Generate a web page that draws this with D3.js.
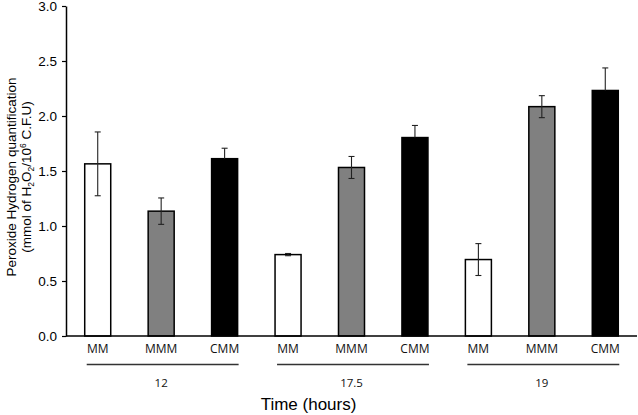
<!DOCTYPE html>
<html>
<head>
<meta charset="utf-8">
<script src="https://cdn.jsdelivr.net/npm/d3@7"></script>
<style>
  body { margin: 0; background: #fff; }
  svg { display: block; }
</style>
</head>
<body>
<svg id="chart" width="638" height="415"></svg>
<script>
// data
const groups = ["12", "17.5", "19"];
const media = ["MM", "MMM", "CMM"];
const values = [1.565, 1.135, 1.612, 0.74, 1.532, 1.804, 0.695, 2.085, 2.232];
const errors = [0.29, 0.12, 0.095, 0.01, 0.1, 0.11, 0.145, 0.1, 0.205];
const fills = ["#ffffff", "#808080", "#000000"];
const yTicks = [0, 0.5, 1.0, 1.5, 2.0, 2.5, 3.0];

const bars = [];
groups.forEach((g, gi) => {
  media.forEach((m, mi) => {
    const i = gi * media.length + mi;
    bars.push({ key: g + "-" + m, group: g, medium: m, mi, value: values[i], err: errors[i] });
  });
});

const svg = d3.select("#chart");
const plotLeft = 66, plotRight = 637, plotTop = 6, plotBottom = 336;

const x = d3.scaleBand()
  .domain(bars.map(d => d.key))
  .range([plotLeft, plotRight])
  .paddingInner(0.59)
  .paddingOuter(0.295);

const y = d3.scaleLinear().domain([0, 3]).range([plotBottom, plotTop]);

// y axis
const yAxis = svg.append("g")
  .attr("transform", `translate(${plotLeft},0)`)
  .call(d3.axisLeft(y).tickValues(yTicks).tickFormat(d3.format(".1f")).tickSize(4).tickSizeOuter(0));
yAxis.select(".domain").attr("stroke", "#000").attr("stroke-width", 1.5);
yAxis.selectAll(".tick line").attr("stroke", "#000").attr("stroke-width", 1.2);
yAxis.selectAll(".tick text")
  .attr("x", -9)
  .attr("font-family", "Liberation Sans, Arial, sans-serif")
  .attr("font-size", 13.5)
  .attr("fill", "#000");

// bars
svg.append("g")
  .selectAll("rect")
  .data(bars)
  .join("rect")
  .attr("x", d => x(d.key))
  .attr("y", d => y(d.value))
  .attr("width", x.bandwidth())
  .attr("height", d => y(0) - y(d.value))
  .attr("fill", d => fills[d.mi])
  .attr("stroke", "#000")
  .attr("stroke-width", 1.5);

// error bars
const eb = svg.append("g")
  .attr("stroke", "#222")
  .attr("stroke-width", 1.1);
bars.forEach(d => {
  const cx = x(d.key) + x.bandwidth() / 2;
  const lo = d.mi === 2 ? d.value : d.value - d.err;
  eb.append("line")
    .attr("x1", cx).attr("x2", cx)
    .attr("y1", y(lo)).attr("y2", y(d.value + d.err));
  eb.append("line")
    .attr("x1", cx - 3).attr("x2", cx + 3)
    .attr("y1", y(d.value + d.err)).attr("y2", y(d.value + d.err));
  if (d.mi !== 2) {
    eb.append("line")
      .attr("x1", cx - 3).attr("x2", cx + 3)
      .attr("y1", y(d.value - d.err)).attr("y2", y(d.value - d.err));
  }
});

// x baseline
svg.append("line")
  .attr("x1", plotLeft).attr("x2", plotRight)
  .attr("y1", y(0)).attr("y2", y(0))
  .attr("stroke", "#000").attr("stroke-width", 1.5);

// category labels
svg.append("g")
  .selectAll("text")
  .data(bars)
  .join("text")
  .attr("x", d => x(d.key) + x.bandwidth() / 2)
  .attr("y", 352.5)
  .attr("text-anchor", "middle")
  .attr("font-family", "Open Sans, sans-serif")
  .attr("font-size", 12)
  .attr("fill", "#111")
  .text(d => d.medium);

// group underlines and labels
groups.forEach(g => {
  const first = x(g + "-" + media[0]);
  const last = x(g + "-" + media[media.length - 1]) + x.bandwidth();
  svg.append("line")
    .attr("x1", first + 2).attr("x2", last + 1)
    .attr("y1", 364.5).attr("y2", 364.5)
    .attr("stroke", "#333").attr("stroke-width", 1.5);
  svg.append("text")
    .attr("x", (first + last) / 2)
    .attr("y", 386.5)
    .attr("text-anchor", "middle")
    .attr("font-family", "Open Sans, sans-serif")
    .attr("font-size", 11.5)
    .attr("fill", "#111")
    .text(g);
});

// x title
svg.append("text")
  .attr("x", 308.5)
  .attr("y", 410)
  .attr("text-anchor", "middle")
  .attr("font-family", "Liberation Sans, Arial, sans-serif")
  .attr("font-size", 17)
  .attr("fill", "#000")
  .text("Time (hours)");

// y title
const yt = svg.append("text")
  .attr("transform", "translate(0,177) rotate(-90)")
  .attr("text-anchor", "middle")
  .attr("font-family", "Liberation Sans, Arial, sans-serif")
  .attr("font-size", 13.5)
  .attr("fill", "#000");
yt.append("tspan").attr("x", 0).attr("y", 15.5).text("Peroxide Hydrogen quantification");
const l2 = yt.append("tspan").attr("x", 0).attr("y", 31);
l2.append("tspan").text("(mmol of H");
l2.append("tspan").attr("font-size", 8.5).attr("dy", 3).text("2");
l2.append("tspan").attr("dy", -3).text("O");
l2.append("tspan").attr("font-size", 8.5).attr("dy", 3).text("2");
l2.append("tspan").attr("dy", -3).text("/10");
l2.append("tspan").attr("font-size", 8.5).attr("dy", -5).text("6");
l2.append("tspan").attr("dy", 5).text(" C.F.U)");
</script>
</body>
</html>
